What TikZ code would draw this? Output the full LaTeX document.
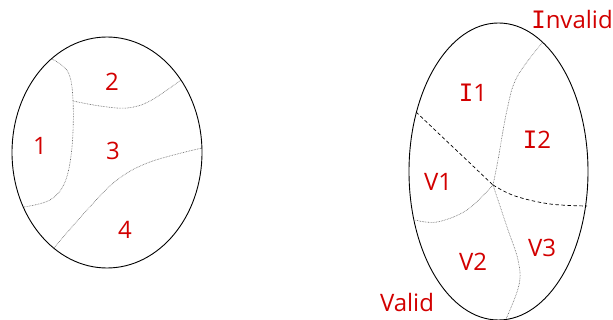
\documentclass[tikz,border=0pt]{standalone}
\usepackage{fontspec}
\setmainfont{Open Sans}
\newfontfamily\barI{DejaVu Sans Mono}
\definecolor{labred}{RGB}{210,0,0}
\newcommand{\BI}{{\barI I}}
\begin{document}
\begin{tikzpicture}[x=1pt,y=-1pt,
  lab/.style={text=labred, font=\fontsize{24}{24}\selectfont, inner sep=0pt, anchor=center},
  bd/.style={draw=black, line width=0.9pt},
  dotl/.style={draw=black!60, line width=0.6pt, dash pattern=on 0.7pt off 0.9pt},
  dashl/.style={draw=black, line width=0.7pt, dash pattern=on 3.5pt off 2.5pt}]
\useasboundingbox (0,0) rectangle (613,320);
% left ellipse
\draw[bd] (107,152.5) ellipse [x radius=95, y radius=115.5];
\draw[dotl] plot[smooth, tension=0.6] coordinates {(52,59) (68,72) (73,100) (72,147) (65,182) (50,200) (24,207)};
\draw[dotl] plot[smooth, tension=0.6] coordinates {(73,101) (100,106) (127,108) (150,101) (181,80)};
\draw[dotl] plot[smooth, tension=0.6] coordinates {(53,249) (87,210) (117,180) (150,162) (202,148)};
\node[lab] (n1) at (40,146) {1};
\node[lab] (n2) at (112,82) {2};
\node[lab] (n3) at (113,151) {3};
\node[lab] (n4) at (125,230) {4};
% right ellipse
\draw[bd] (498.5,171.5) ellipse [x radius=89.5, y radius=148.5];
\coordinate (J) at (493,185);
\draw[dashl] (416,112) -- (J);
\draw[dashl] plot[smooth, tension=0.6] coordinates {(J) (515,196) (550,204) (587,206)};
\draw[dotl] plot[smooth, tension=0.6] coordinates {(542,43) (517,77) (507,110) (498,160) (J)};
\draw[dotl] plot[smooth, tension=0.6] coordinates {(J) (467,210) (437,222) (415,220)};
\draw[dotl] plot[smooth, tension=0.6] coordinates {(J) (507,227) (518,260) (519,285) (506,319)};
\node[lab] (inv) at (572,20) {\BI nvalid};
\node[lab] (i1) at (473,93) {\BI1};
\node[lab] (i2) at (537,140) {\BI2};
\node[lab] (v1) at (438,182) {V1};
\node[lab] (v2) at (473,262) {V2};
\node[lab] (v3) at (542,248) {V3};
\node[lab] (val) at (407,303) {Valid};
\end{tikzpicture}
\end{document}
